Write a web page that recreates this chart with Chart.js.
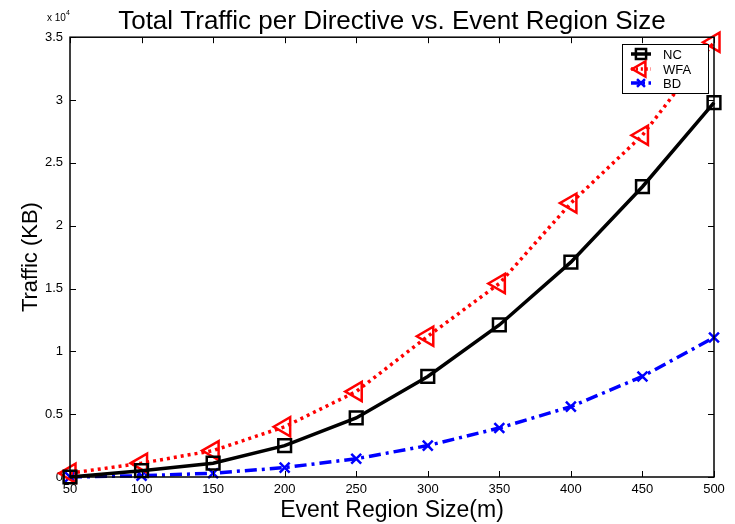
<!DOCTYPE html>
<html>
<head>
    <title>Total Traffic per Directive</title>
    <script src="https://cdn.jsdelivr.net/npm/chart.js"></script>
    <style>
        body {
            margin: 0;
            padding: 0;
            background-color: #fff;
        }
        #wrap {
            width: 735px;
            height: 524px;
        }
    </style>
</head>
<body>
    <div id="wrap">
        <canvas id="myChart" width="735" height="524"></canvas>
    </div>
    <script>
        // event region size (m)
        var regionSize = [50, 100, 150, 200, 250, 300, 350, 400, 450, 500];
        // traffic in KB
        var ncTraffic  = [0, 500, 1100, 2500, 4700, 8000, 12100, 17100, 23100, 29800];
        var wfaTraffic = [300, 1100, 2100, 4000, 6800, 11200, 15400, 21800, 27200, 34600];
        var bdTraffic  = [0, 100, 300, 750, 1450, 2500, 3900, 5600, 8000, 11100];
        var yTicks = [0, 0.5, 1, 1.5, 2, 2.5, 3, 3.5];

        var FONT = 'Arial, "Liberation Sans", sans-serif';

        function pts(values) {
            return regionSize.map(function (x, i) { return { x: x, y: values[i] }; });
        }

        var seriesStyle = [
            { label: 'NC',  color: '#000000', dash: [],             style: 'rect',     radius: 9,  rot: 0 },
            { label: 'WFA', color: '#ff0000', dash: [3, 4],         style: 'triangle', radius: 11, rot: -90 },
            { label: 'BD',  color: '#0000ff', dash: [12, 5, 3, 5],  style: 'crossRot', radius: 7,  rot: 0 }
        ];
        var seriesData = [ncTraffic, wfaTraffic, bdTraffic];

        // box, inward ticks, exponent label, legend
        var matlabLook = {
            id: 'matlabLook',
            afterDatasetsDraw: function (chart) {
                var ctx = chart.ctx;
                var a = chart.chartArea;
                var xs = chart.scales.x, ys = chart.scales.y;
                ctx.save();
                ctx.strokeStyle = '#000';
                ctx.lineWidth = 1.5;
                ctx.strokeRect(a.left, a.top, a.right - a.left, a.bottom - a.top);
                ctx.lineWidth = 1;
                ctx.beginPath();
                regionSize.forEach(function (v) {
                    var px = Math.round(xs.getPixelForValue(v)) + 0.5;
                    ctx.moveTo(px, a.bottom); ctx.lineTo(px, a.bottom - 6);
                    ctx.moveTo(px, a.top); ctx.lineTo(px, a.top + 6);
                });
                yTicks.forEach(function (v) {
                    var py = Math.round(ys.getPixelForValue(v * 10000)) + 0.5;
                    ctx.moveTo(a.left, py); ctx.lineTo(a.left + 6, py);
                    ctx.moveTo(a.right, py); ctx.lineTo(a.right - 6, py);
                });
                ctx.stroke();

                // x 10^4
                ctx.fillStyle = '#000';
                ctx.textBaseline = 'alphabetic';
                ctx.textAlign = 'left';
                ctx.font = '10px ' + FONT;
                ctx.fillText('x 10', 47, 21);
                ctx.font = '7px ' + FONT;
                ctx.fillText('4', 66, 15);

                // legend
                var lx = 622, ly = 44, lw = 86, lh = 49;
                ctx.fillStyle = '#fff';
                ctx.fillRect(lx, ly, lw, lh);
                ctx.strokeStyle = '#000';
                ctx.lineWidth = 1;
                ctx.strokeRect(lx + 0.5, ly + 0.5, lw, lh);
                var rows = [54, 69, 83];
                seriesStyle.forEach(function (s, i) {
                    var y = rows[i];
                    ctx.save();
                    ctx.strokeStyle = s.color;
                    ctx.lineWidth = 3.5;
                    ctx.setLineDash(s.dash.length ? s.dash.map(function (d) { return d * 0.7; }) : []);
                    ctx.beginPath();
                    ctx.moveTo(631, y); ctx.lineTo(651, y);
                    ctx.stroke();
                    ctx.restore();
                    ctx.save();
                    ctx.strokeStyle = s.color;
                    ctx.fillStyle = 'rgba(0,0,0,0)';
                    ctx.lineWidth = 2.5;
                    Chart.helpers.drawPoint(ctx, {
                        pointStyle: s.style,
                        radius: s.radius * 0.8,
                        rotation: s.rot,
                        borderWidth: 2.5
                    }, 641, y);
                    ctx.restore();
                    ctx.fillStyle = '#000';
                    ctx.font = '13px ' + FONT;
                    ctx.textBaseline = 'middle';
                    ctx.fillText(s.label, 663, y + 1);
                });
                ctx.restore();
            }
        };

        var ctx = document.getElementById('myChart').getContext('2d');
        var myChart = new Chart(ctx, {
            type: 'line',
            data: {
                datasets: seriesStyle.map(function (s, i) {
                    return {
                        label: s.label,
                        data: pts(seriesData[i]),
                        borderColor: s.color,
                        borderWidth: 3.5,
                        borderDash: s.dash,
                        backgroundColor: 'rgba(0,0,0,0)',
                        pointStyle: s.style,
                        pointRadius: s.radius,
                        pointRotation: s.rot,
                        pointBorderWidth: 2.5,
                        pointBorderColor: s.color,
                        pointBackgroundColor: 'rgba(0,0,0,0)',
                        tension: 0,
                        clip: false
                    };
                })
            },
            plugins: [matlabLook],
            options: {
                responsive: false,
                animation: false,
                layout: {
                    padding: { left: 0, right: 21, top: 0, bottom: 0 }
                },
                plugins: {
                    legend: { display: false },
                    tooltip: { enabled: false },
                    title: {
                        display: true,
                        fullSize: false,
                        text: 'Total Traffic per Directive vs. Event Region Size',
                        color: '#000',
                        font: { family: FONT, size: 26, weight: 'normal', lineHeight: 1.2 },
                        padding: { top: 6, bottom: 0 }
                    }
                },
                scales: {
                    x: {
                        type: 'linear',
                        min: 50,
                        max: 500,
                        afterFit: function (scale) { scale.height = 47; },
                        afterBuildTicks: function (scale) {
                            scale.ticks = regionSize.map(function (v) { return { value: v }; });
                        },
                        grid: { display: false, drawTicks: false },
                        border: { display: false },
                        ticks: {
                            color: '#000',
                            font: { family: FONT, size: 13 },
                            padding: 5,
                            maxRotation: 0
                        },
                        title: {
                            display: true,
                            text: 'Event Region Size(m)',
                            color: '#000',
                            font: { family: FONT, size: 23 },
                            padding: { top: 0, bottom: 0 }
                        }
                    },
                    y: {
                        min: 0,
                        max: 35000,
                        afterFit: function (scale) { scale.width = 70; },
                        afterBuildTicks: function (scale) {
                            scale.ticks = yTicks.map(function (v) { return { value: v * 10000 }; });
                        },
                        grid: { display: false, drawTicks: false },
                        border: { display: false },
                        ticks: {
                            color: '#000',
                            font: { family: FONT, size: 13 },
                            padding: 7,
                            callback: function (v) { return String(v / 10000); }
                        },
                        title: {
                            display: true,
                            text: 'Traffic (KB)',
                            color: '#000',
                            font: { family: FONT, size: 22 },
                            padding: { top: 18, bottom: 0 }
                        }
                    }
                }
            }
        });
    </script>
</body>
</html>
